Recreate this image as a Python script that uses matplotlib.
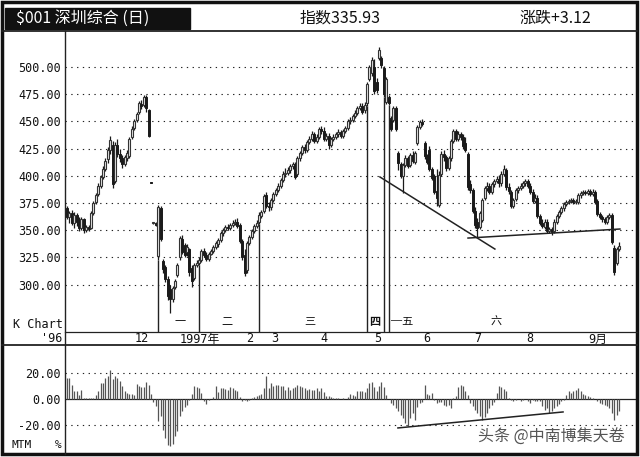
import matplotlib
matplotlib.use('Agg')
import matplotlib.pyplot as plt
from matplotlib.patches import Rectangle
from matplotlib.transforms import blended_transform_factory

plt.rcParams['font.family'] = ['DejaVu Sans Mono', 'Noto Sans CJK SC']

# daily candles, Shenzhen composite, late 1996 .. Sept 1997
opens = [370, 362, 366, 357, 364, 358, 352, 360, 350, 353,
         352, 366, 376, 383, 391, 399, 406, 415, 424, 428,
         395, 428, 420, 416, 411, 416, 418, 436, 444, 451,
         459, 466, 465, 472, 460, 394, 357, 357, 326, 370,
         322, 316, 305, 296, 287, 298, 309, 325, 342, 336,
         330, 333, 315, 306, 318, 320, 323, 331, 327, 324,
         328, 331, 335, 337, 341, 347, 350, 353, 352, 355,
         357, 358, 355, 340, 327, 313, 338, 344, 349, 354,
         358, 363, 368, 382, 372, 371, 378, 383, 387, 391,
         396, 402, 403, 405, 409, 411, 402, 416, 421, 426,
         424, 431, 434, 438, 432, 436, 443, 441, 434, 437,
         428, 434, 436, 438, 440, 437, 441, 444, 450, 451,
         455, 458, 462, 464, 460, 467, 489, 494, 500, 486,
         508, 508, 499, 468, 472, 453, 451, 462, 421, 411,
         400, 410, 416, 410, 419, 413, 430, 445, 449, 430,
         418, 424, 406, 400, 386, 373, 402, 420, 417, 407,
         416, 432, 441, 434, 438, 436, 430, 420, 392, 387,
         368, 358, 353, 359, 380, 389, 391, 385, 392, 395,
         397, 393, 402, 405, 390, 385, 372, 379, 387, 389,
         391, 393, 395, 391, 385, 377, 380, 363, 357, 353,
         358, 349, 351, 349, 358, 363, 367, 370, 374, 376,
         377, 378, 376, 376, 382, 384, 385, 384, 386, 383,
         385, 377, 365, 362, 360, 358, 362, 364, 334, 320,
         333]
highs = [372, 368, 369, 367, 366, 362, 362, 361, 355, 355,
         368, 377, 384, 393, 401, 409, 416, 426, 437, 432,
         431, 434, 425, 419, 419, 424, 436, 446, 452, 459,
         469, 470, 474, 474, 461, 394, 358, 358, 373, 372,
         324, 318, 308, 300, 299, 305, 320, 345, 346, 338,
         337, 334, 318, 320, 323, 325, 333, 334, 330, 330,
         333, 336, 340, 343, 349, 352, 355, 356, 357, 359,
         360, 361, 357, 342, 333, 340, 346, 351, 356, 359,
         367, 369, 383, 385, 376, 380, 385, 389, 393, 398,
         404, 407, 408, 411, 413, 413, 418, 423, 428, 429,
         433, 437, 441, 440, 438, 445, 446, 445, 439, 439,
         436, 438, 440, 443, 442, 443, 446, 452, 454, 457,
         460, 464, 467, 467, 468, 486, 502, 509, 507, 490,
         518, 510, 501, 491, 474, 455, 464, 464, 423, 413,
         412, 419, 418, 421, 423, 423, 447, 451, 452, 432,
         420, 427, 408, 402, 406, 404, 423, 424, 419, 418,
         434, 443, 443, 441, 440, 438, 436, 422, 396, 389,
         371, 361, 368, 380, 391, 394, 393, 394, 397, 400,
         401, 404, 410, 407, 393, 387, 380, 389, 391, 393,
         395, 397, 397, 393, 388, 383, 382, 365, 360, 360,
         360, 353, 353, 360, 365, 369, 372, 376, 378, 379,
         380, 380, 379, 384, 386, 387, 387, 388, 388, 388,
         387, 379, 367, 364, 362, 364, 366, 366, 336, 335,
         339]
lows = [360, 357, 355, 352, 354, 349, 350, 347, 348, 349,
        351, 364, 374, 381, 389, 397, 404, 412, 420, 389,
        393, 417, 413, 407, 409, 414, 416, 434, 442, 449,
        457, 461, 463, 459, 436, 393, 356, 354, 323, 340,
        311, 302, 286, 274, 284, 296, 307, 323, 328, 325,
        326, 308, 298, 304, 316, 318, 321, 325, 322, 322,
        327, 329, 333, 335, 339, 345, 348, 350, 350, 353,
        355, 352, 338, 323, 308, 311, 336, 342, 347, 352,
        356, 361, 366, 370, 368, 369, 376, 381, 385, 389,
        394, 399, 401, 403, 406, 397, 400, 414, 419, 421,
        422, 429, 432, 430, 430, 434, 438, 432, 432, 425,
        426, 432, 434, 436, 435, 435, 439, 442, 448, 449,
        453, 456, 460, 457, 458, 464, 487, 492, 475, 476,
        506, 499, 472, 466, 465, 441, 449, 441, 405, 398,
        384, 408, 407, 408, 412, 411, 428, 443, 446, 415,
        411, 404, 396, 383, 372, 371, 400, 414, 404, 405,
        414, 430, 432, 432, 433, 425, 422, 387, 384, 366,
        352, 344, 351, 358, 378, 386, 383, 383, 390, 393,
        390, 391, 400, 387, 383, 370, 370, 377, 384, 387,
        389, 391, 389, 383, 375, 375, 361, 355, 352, 351,
        347, 347, 346, 347, 356, 361, 365, 368, 372, 374,
        375, 374, 374, 374, 380, 382, 382, 382, 381, 381,
        374, 363, 360, 358, 356, 356, 360, 337, 309, 318,
        331]
closes = [362, 366, 357, 364, 358, 352, 360, 350, 353, 351,
          366, 375, 382, 391, 399, 406, 414, 424, 433, 392,
          428, 420, 416, 411, 417, 421, 434, 443, 450, 457,
          467, 464, 472, 462, 437, 393, 357, 355, 371, 342,
          314, 305, 290, 287, 297, 303, 318, 343, 330, 327,
          335, 312, 303, 318, 320, 323, 331, 327, 324, 328,
          331, 335, 338, 341, 347, 350, 353, 352, 355, 357,
          358, 354, 340, 325, 311, 338, 344, 349, 354, 357,
          364, 367, 381, 372, 371, 378, 383, 387, 391, 396,
          402, 403, 405, 409, 411, 399, 416, 421, 426, 424,
          431, 434, 438, 432, 436, 443, 441, 434, 437, 428,
          434, 436, 438, 440, 437, 441, 444, 450, 451, 455,
          458, 462, 464, 459, 465, 484, 500, 506, 478, 479,
          516, 502, 475, 489, 467, 443, 462, 443, 412, 400,
          410, 416, 409, 419, 414, 421, 445, 449, 448, 418,
          413, 406, 398, 385, 380, 401, 420, 417, 407, 416,
          432, 441, 434, 438, 436, 427, 424, 390, 387, 368,
          355, 352, 366, 378, 389, 391, 385, 392, 395, 397,
          393, 402, 406, 390, 386, 372, 378, 387, 389, 391,
          393, 395, 391, 385, 377, 380, 363, 357, 354, 358,
          349, 351, 348, 358, 363, 367, 370, 374, 376, 377,
          378, 376, 377, 382, 384, 385, 384, 386, 383, 385,
          376, 365, 362, 360, 358, 362, 364, 339, 312, 332.81,
          335.93]

# MTM (%) bars, one per candle
mtm = [16, 16, 11, 6.4, 6, 3.3, 7, 1, 0.5, 0.5,
       1, 1, 3, 6.5, 12, 12, 16, 18, 22, 15,
       18, 16, 13.6, 10, 6, 4.6, 4, 4, 3.3, 11.5,
       10, 9, 9, 13, 11, 4, -2, -5.6, -17, -13,
       -23.6, -30, -35.6, -36.4, -35, -28.7, -25, -13.3, -9.5, -6,
       -4.4, -0.5, 3.8, 9.7, 9, 8.5, 4.6, -1.8, -3.8, -0.5,
       0.3, 1.3, 9.7, 5.4, 8.5, 8.5, 8, 7, 9, 8.5,
       7, 6.4, 1.3, -1.8, -0.5, -1.8, -0.5, 0.8, 1.3, 2,
       3.3, 3.8, 8.5, 17.4, 8.5, 12.3, 9.7, 10.5, 10.5, 9.7,
       10, 7, 9, 7, 8.5, 9, 10.5, 9.7, 9, 8.5,
       7, 8, 7, 7, 8.5, 6.4, 8.5, 5.4, 2, 2.5,
       1.3, 1, 0.8, 0.8, 0.3, 0.8, 0.3, 1.3, 3.8, 3.3,
       2, 6.4, 6, 6, 5.4, 8.5, 12.3, 13, 9, 6,
       9.7, 13, 9, 3.3, 0, -3, -4.9, -7, -9.5, -12.3,
       -14.6, -18.5, -21, -14.6, -10.8, -16, -6, -3, -2, 11,
       3.8, 3.3, 4.6, -0.8, -3, -2.5, -2, -4.4, -5.6, -4.5,
       -7, 0.8, 2, 9, 10.5, 9.7, 6, 3, -3, -5.6,
       -8.2, -10.8, -13.3, -16, -14, -10.8, -7, -4.4, -2, 4.6,
       9.7, 9, 8, 6.4, 0.8, -0.5, -1.8, -0.8, -0.3, -1.3,
       -0.8, -0.3, -1.8, -3, -0.8, -1.8, -1.5, -1.8, -5.6, -8.2,
       -7, -10.8, -9.5, -7, -5.6, -3.8, -1.8, -0.8, 3.3, 6.4,
       4.6, 6, 7, 8.5, 6, 3.8, 3.3, 2, 1.3, 0.8,
       0.3, -1.3, -3, -3.8, -4.9, -5.6, -7, -10.8, -16, -12,
       -9.5]

price_ticks = [300, 325, 350, 375, 400, 425, 450, 475, 500]
mtm_ticks = [20, 0, -20]

month_labels = ['12', '1997年', '2', '3', '4', '5', '6', '7', '8', '9月']
month_pos = [31, 55.5, 76, 86.5, 107, 129.5, 150, 171, 193, 221]

# wave count marks
period_idx = [38, 55, 80, 125, 132, 134]
period_labels = ['一', '二', '三', '四', '─五', '六']
period_pos = [47, 66.7, 101, 128.3, 135.2, 178.7]

# hand drawn trend lines (index, value)
trend1_x, trend1_y = [130.4, 178.3], [398.9, 332.7]
trend2_x, trend2_y = [167.1, 230.4], [342.8, 351.1]
mtm_line_x, mtm_line_y = [137.9, 206.7], [-22.3, -10.0]

W, H = 640, 457
fig = plt.figure(figsize=(6.4, 4.57), dpi=100)


def px_rect(x0, y0, x1, y1):
    return [x0 / W, 1 - y1 / H, (x1 - x0) / W, (y1 - y0) / H]


bg = fig.add_axes([0, 0, 1, 1])
bg.set_xlim(0, W)
bg.set_ylim(H, 0)
bg.axis('off')

# frame and panel separators
bg.add_patch(Rectangle((2, 2), 635, 452, fill=False, lw=2.5, ec='#111'))
bg.plot([2, 637], [31, 31], color='#222', lw=1.3)
bg.plot([65, 65], [31, 454], color='#222', lw=1.0)
bg.plot([65, 637], [332, 332], color='#222', lw=0.9)
bg.plot([2, 637], [345, 345], color='#222', lw=1.3)

# header
bg.add_patch(Rectangle((5, 8), 185, 21, color='#111'))
bg.text(16, 18.5, '$001 深圳综合 (日)', color='white', fontsize=11.5,
        family=['Noto Sans CJK SC'], va='center', ha='left')
bg.text(340, 18.5, '指数335.93', fontsize=11.5, family=['Noto Sans CJK SC'],
        va='center', ha='center', color='#111')
bg.text(555, 18.5, '涨跌+3.12', fontsize=11.5, family=['Noto Sans CJK SC'],
        va='center', ha='center', color='#111')

bg.text(63, 325, 'K Chart', fontsize=8.5, ha='right', va='center', color='#111')
bg.text(62, 339, "'96", fontsize=8.5, ha='right', va='center', color='#111')
bg.text(12, 445, 'MTM', fontsize=8, ha='left', va='center', color='#111')
bg.text(62, 445, '%', fontsize=8, ha='right', va='center', color='#111')

# candle panel
ax = fig.add_axes(px_rect(65, 31, 636, 332))
ax.set_facecolor('none')
xmin, xmax = -0.83, 237.1
ax.set_xlim(xmin, xmax)
ax.set_ylim(256.5, 533)
for s in ax.spines.values():
    s.set_visible(False)

for v in price_ticks:
    ax.axhline(v, ls=(0, (1.2, 4)), lw=0.8, color='#222', zorder=0)

idx = list(range(len(closes)))
ax.vlines(idx, lows, highs, color='#1a1a1a', lw=0.9, zorder=2)
for i in idx:
    o, c = opens[i], closes[i]
    bottom = min(o, c)
    height = max(abs(c - o), 0.8)
    if c >= o:
        ax.bar(i, height, bottom=bottom, width=0.85, color='#e8e8e8',
               edgecolor='#333', lw=0.8, zorder=3)
    else:
        ax.bar(i, height, bottom=bottom, width=0.85, color='#1a1a1a',
               edgecolor='#1a1a1a', lw=0.7, zorder=3)

for i in period_idx:
    ax.vlines(i, 256.5, lows[i], color='#222', lw=1.0, zorder=2)

ax.plot(trend1_x, trend1_y, color='#222', lw=1.1, zorder=4)
ax.plot(trend2_x, trend2_y, color='#222', lw=1.1, zorder=4)

ax.set_xticks([])
ax.set_yticks(price_ticks)
ax.set_yticklabels([f'{v:.2f}' for v in price_ticks])
ax.tick_params(axis='y', length=0, pad=3, labelsize=8.5, labelcolor='#111')

strip = blended_transform_factory(ax.transData, bg.transData)
for lab, p in zip(period_labels, period_pos):
    w = 'bold' if lab == '四' else 'normal'
    ha = 'left' if lab.startswith('─') else 'center'
    bg.text(p, 322, lab, transform=strip, fontsize=8, ha=ha, va='center',
            family=['Noto Sans CJK SC'], fontweight=w, color='#111')
for lab, p in zip(month_labels, month_pos):
    bg.text(p, 339, lab, transform=strip, fontsize=8.5, ha='center',
            va='center', color='#111')

# MTM panel
ax2 = fig.add_axes(px_rect(65, 345, 636, 452))
ax2.set_facecolor('none')
ax2.set_xlim(xmin, xmax)
ax2.set_ylim(-40.8, 41.5)
for s in ax2.spines.values():
    s.set_visible(False)
for v in [20, -20]:
    ax2.axhline(v, ls=(0, (1.2, 4)), lw=0.8, color='#222', zorder=0)
ax2.axhline(0, color='#222', lw=0.9, zorder=1)
ax2.vlines(idx, 0, mtm, color='#555', lw=0.9, zorder=2)
ax2.plot(mtm_line_x, mtm_line_y, color='#222', lw=1.1, zorder=3)
ax2.set_xticks([])
ax2.set_yticks(mtm_ticks)
ax2.set_yticklabels([f'{v:.2f}' for v in mtm_ticks])
ax2.tick_params(axis='y', length=0, pad=3, labelsize=8.5, labelcolor='#111')

bg.text(625, 436, '头条 @中南博集天卷', fontsize=11.5, ha='right', va='center',
        family=['Noto Sans CJK SC'], color='#555', zorder=10)

fig.savefig('out.png', dpi=100)
